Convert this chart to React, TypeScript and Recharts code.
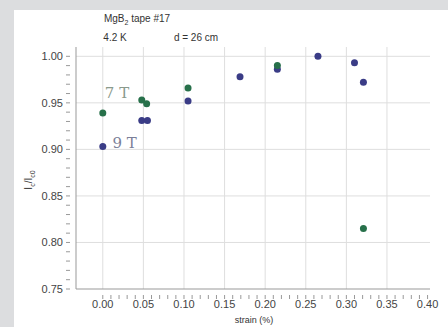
import {
  ScatterChart,
  Scatter,
  XAxis,
  YAxis,
  ReferenceLine,
  ReferenceDot,
} from "recharts";

// strain (%) and normalised Ic for each field
const strain7T = [0.0, 0.048, 0.054, 0.105, 0.215, 0.321];
const ic7T = [0.939, 0.953, 0.949, 0.966, 0.990, 0.815];

const strain9T = [0.0, 0.048, 0.055, 0.105, 0.169, 0.215, 0.265, 0.31, 0.321];
const ic9T = [0.903, 0.931, 0.931, 0.952, 0.978, 0.986, 1.0, 0.993, 0.972];

const xMajor = [0, 0.05, 0.1, 0.15, 0.2, 0.25, 0.3, 0.35, 0.4];
const yMajor = [0.75, 0.8, 0.85, 0.9, 0.95, 1.0];
const xMinor = Array.from({ length: 41 }, (_, i) => Math.round(i * 100) / 10000);
const yMinor = Array.from({ length: 26 }, (_, i) => Math.round((0.75 + i * 0.01) * 1000) / 1000);

const data7T = strain7T.map((x, i) => ({ x, y: ic7T[i] }));
const data9T = strain9T.map((x, i) => ({ x, y: ic9T[i] }));

const GREEN = "#27704a";
const BLUE = "#3a3c86";
const font = "Arial, 'Liberation Sans', sans-serif";

const isMajor = (v: number, majors: number[]) => majors.some((m) => Math.abs(m - v) < 1e-6);

function XTick(props: any) {
  const { x, y, payload } = props;
  const major = isMajor(payload.value, xMajor);
  return (
    <g>
      <line x1={x} x2={x} y1={y - 2} y2={y + 2} stroke="#999" strokeWidth={1} />
      {major && (
        <text x={x} y={y + 11} textAnchor="middle" fontSize={11} fill="#444" fontFamily={font}>
          {payload.value.toFixed(2)}
        </text>
      )}
    </g>
  );
}

function YTick(props: any) {
  const { x, y, payload } = props;
  const major = isMajor(payload.value, yMajor);
  return (
    <g>
      <line x1={x - 2} x2={x + 2} y1={y} y2={y} stroke="#999" strokeWidth={1} />
      {major && (
        <text x={x - 5} y={y + 4} textAnchor="end" fontSize={11} fill="#444" fontFamily={font}>
          {payload.value.toFixed(2)}
        </text>
      )}
    </g>
  );
}

const dot = (color: string) => (props: any) =>
  <circle cx={props.cx} cy={props.cy} r={3.5} fill={color} />;

export default function App() {
  return (
    <div style={{ position: "fixed", left: 0, top: 0, width: 448, height: 327, background: "#dcdddf", fontFamily: font }}>
      <div style={{ position: "absolute", left: 14, top: 10, width: 434, height: 317, background: "#fff" }} />
      <div style={{ position: "absolute", left: 0, top: 0 }}>
        <ScatterChart width={448} height={327} margin={{ top: 47, right: 18, bottom: 0, left: 0 }}>
          <XAxis
            type="number"
            dataKey="x"
            domain={[-0.033, 0.403]}
            ticks={xMinor}
            interval={0}
            tick={<XTick />}
            tickLine={false}
            axisLine={{ stroke: "#999" }}
            height={38}
            allowDataOverflow
          />
          <YAxis
            type="number"
            dataKey="y"
            domain={[0.75, 1.01]}
            ticks={yMinor}
            interval={0}
            tick={<YTick />}
            tickLine={false}
            axisLine={{ stroke: "#999" }}
            width={76}
            allowDataOverflow
          />
          {xMajor.slice(0, 8).map((v) => (
            <ReferenceLine key={"vx" + v} x={v} stroke="#dedede" strokeWidth={1} />
          ))}
          {yMajor.slice(1).map((v) => (
            <ReferenceLine key={"hy" + v} y={v} stroke="#dedede" strokeWidth={1} />
          ))}
          <ReferenceDot
            x={0.0175}
            y={0.961}
            r={0}
            label={{ value: "7 T", fill: "#8a9a8c", fontSize: 15, fontFamily: "'DejaVu Serif', 'Liberation Serif', serif" }}
          />
          <ReferenceDot
            x={0.027}
            y={0.907}
            r={0}
            label={{ value: "9 T", fill: "#7b7f98", fontSize: 15, fontFamily: "'DejaVu Serif', 'Liberation Serif', serif" }}
          />
          <Scatter data={data9T} fill={BLUE} shape={dot(BLUE)} isAnimationActive={false} />
          <Scatter data={data7T} fill={GREEN} shape={dot(GREEN)} isAnimationActive={false} />
        </ScatterChart>
      </div>
      <div style={{ position: "absolute", left: 137, top: 19, transform: "translate(-50%, -50%)", fontSize: 10, color: "#333", whiteSpace: "nowrap" }}>
        MgB<sub style={{ fontSize: 7 }}>2</sub> tape #17
      </div>
      <div style={{ position: "absolute", left: 115, top: 37, transform: "translate(-50%, -50%)", fontSize: 10, color: "#333", whiteSpace: "nowrap" }}>
        4.2 K
      </div>
      <div style={{ position: "absolute", left: 196, top: 37, transform: "translate(-50%, -50%)", fontSize: 10, color: "#333", whiteSpace: "nowrap" }}>
        d = 26 cm
      </div>
      <div style={{ position: "absolute", left: 254, top: 320, transform: "translate(-50%, -50%)", fontSize: 9, color: "#333", whiteSpace: "nowrap" }}>
        strain (%)
      </div>
      <div style={{ position: "absolute", left: 29, top: 180, transform: "translate(-50%, -50%) rotate(-90deg)", fontSize: 10, color: "#333", whiteSpace: "nowrap" }}>
        I<sub style={{ fontSize: 7 }}>c</sub>/I<sub style={{ fontSize: 7 }}>c0</sub>
      </div>
    </div>
  );
}
